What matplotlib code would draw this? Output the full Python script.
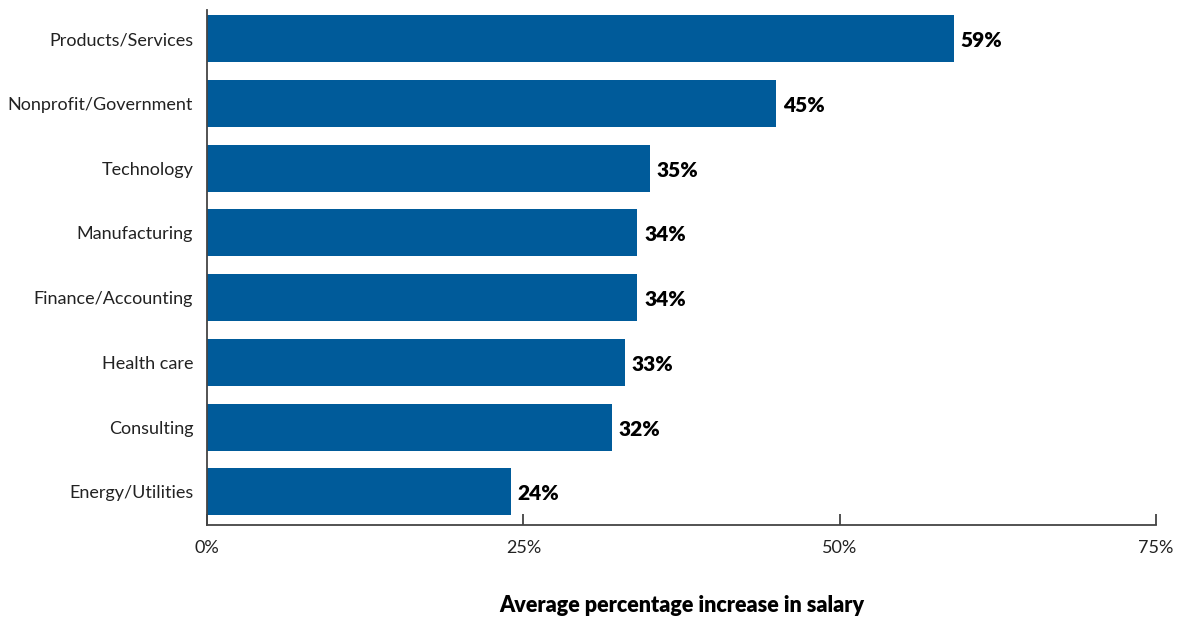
import matplotlib.pyplot as plt
import numpy as np

plt.rcParams['font.family'] = ['Lato', 'DejaVu Sans']

# data
categories = ["Products/Services", "Nonprofit/Government", "Technology", "Manufacturing",
              "Finance/Accounting", "Health care", "Consulting", "Energy/Utilities"]
values = [59, 45, 35, 34, 34, 33, 32, 24]
xticks = [0, 25, 50, 75]
xtick_labels = ["0%", "25%", "50%", "75%"]

bar_color = "#005b9a"

fig = plt.figure(figsize=(11.81, 6.18), dpi=100)
ax = fig.add_axes([0.1753, 0.1505, 0.8035, 0.8333])

y = np.arange(len(categories))
ax.barh(y, values, height=0.725, color=bar_color)

for yi, v in zip(y, values):
    ax.text(v + 0.55, yi + 0.03, f"{v}%", va="center", ha="left",
            fontsize=15, fontweight="heavy", color="black")

ax.set_yticks(y)
ax.set_yticklabels(categories, fontsize=13, color="#222222")
ax.invert_yaxis()
ax.set_ylim(len(categories) - 1 + 0.51, -0.44)

ax.set_xlim(0, 75)
ax.set_xticks(xticks)
ax.set_xticklabels(xtick_labels, fontsize=13, color="#222222")
ax.tick_params(axis="x", direction="in", length=8, width=1.2, color="#333333", pad=11)
ax.tick_params(axis="y", length=0, pad=10)

for s in ["top", "right"]:
    ax.spines[s].set_visible(False)
for s in ["left", "bottom"]:
    ax.spines[s].set_color("#444444")
    ax.spines[s].set_linewidth(1.3)

ax.set_xlabel("Average percentage increase in salary", fontsize=15.5,
              fontweight="heavy", labelpad=28)

fig.savefig("out.png", dpi=100)
